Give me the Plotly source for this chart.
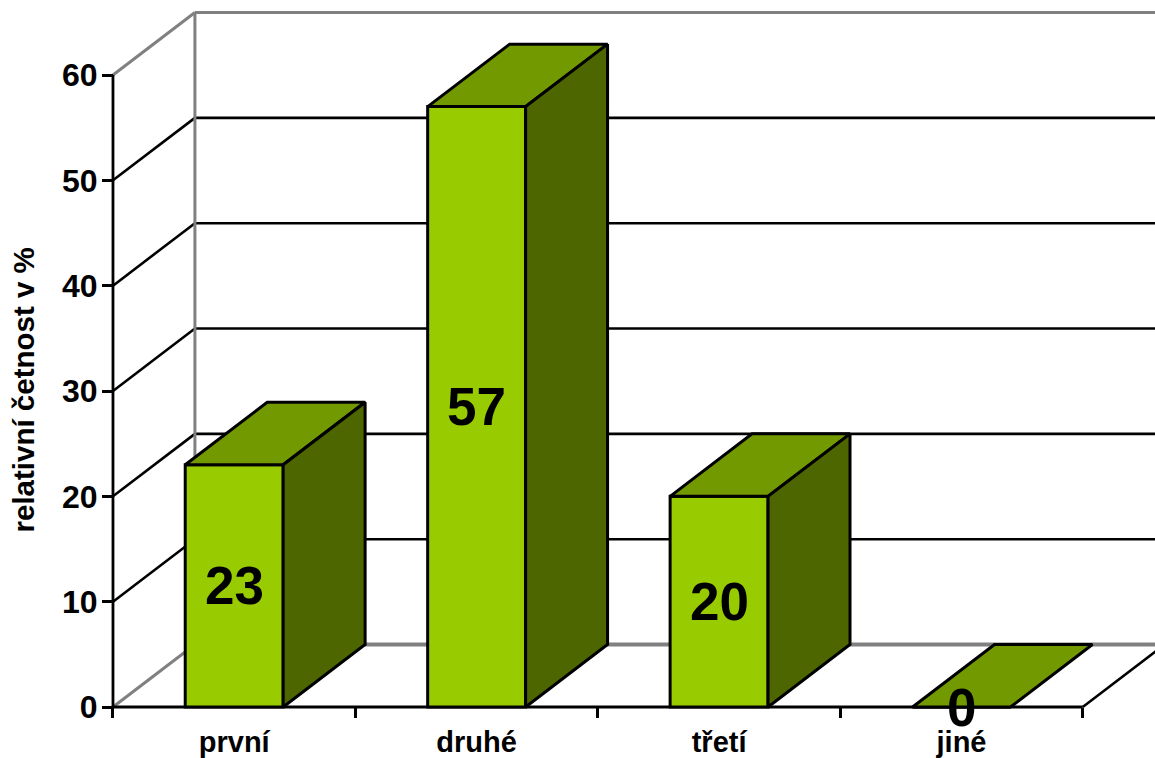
import plotly.graph_objects as go

categories = ["první", "druhé", "třetí", "jiné"]
values = [23, 57, 20, 0]
y_ticks = [0, 10, 20, 30, 40, 50, 60]

FRONT = "#99CC00"
TOP = "#739900"
SIDE = "#4D6600"
WALL = "#808080"
INK = "#000000"
FONT = "Liberation Sans"

BAR_WIDTH = 0.404
DEPTH_X = 0.338
DEPTH_Y = 5.93
X_RANGE = [-0.966, 3.798]
Y_RANGE = [-4.842, 67.12]

positions = list(range(len(categories)))
left_edge = positions[0] - 0.5
right_edge = positions[-1] + 0.5
y_top = y_ticks[-1]


def segment(x0, y0, x1, y1, color, width, layer="below"):
    return dict(type="line", xref="x", yref="y", x0=x0, y0=y0, x1=x1, y1=y1,
                line=dict(color=color, width=width), layer=layer)


shapes = []
# Receding gridlines on the side wall and along the back wall
for tick in y_ticks[1:-1]:
    shapes.append(segment(left_edge, tick, left_edge + DEPTH_X, tick + DEPTH_Y, INK, 2.6))
    shapes.append(segment(left_edge + DEPTH_X, tick + DEPTH_Y, X_RANGE[1], tick + DEPTH_Y, INK, 2.6))

# Wall outlines
shapes += [
    segment(left_edge, y_top, left_edge + DEPTH_X, y_top + DEPTH_Y, WALL, 3),
    segment(left_edge + DEPTH_X, y_top + DEPTH_Y, X_RANGE[1], y_top + DEPTH_Y, WALL, 3),
    segment(left_edge + DEPTH_X, DEPTH_Y, left_edge + DEPTH_X, y_top + DEPTH_Y, WALL, 3),
    segment(left_edge, 0, left_edge + DEPTH_X, DEPTH_Y, WALL, 3),
    segment(left_edge + DEPTH_X, DEPTH_Y, X_RANGE[1], DEPTH_Y, WALL, 4),
]

# Front axis lines and the floor edge on the right
shapes += [
    segment(left_edge, 0, left_edge, y_top, INK, 2.8),
    segment(left_edge, 0, right_edge, 0, INK, 2.8),
    segment(right_edge, 0, right_edge + DEPTH_X, DEPTH_Y, INK, 2.6),
]

fig = go.Figure()

# Front faces of the columns
fig.add_trace(go.Bar(
    x=positions, y=values, width=BAR_WIDTH,
    marker=dict(color=FRONT, line=dict(color=INK, width=3)),
    hoverinfo="skip", showlegend=False,
))

# Top and side faces, offset by the chart depth
for pos, value in zip(positions, values):
    x0 = pos - BAR_WIDTH / 2
    x1 = pos + BAR_WIDTH / 2
    fig.add_trace(go.Scatter(
        x=[x0, x1, x1 + DEPTH_X, x0 + DEPTH_X, x0],
        y=[value, value, value + DEPTH_Y, value + DEPTH_Y, value],
        mode="lines", fill="toself", fillcolor=TOP,
        line=dict(color=INK, width=3), hoverinfo="skip", showlegend=False,
    ))
    if value > 0:
        fig.add_trace(go.Scatter(
            x=[x1, x1 + DEPTH_X, x1 + DEPTH_X, x1, x1],
            y=[0, DEPTH_Y, value + DEPTH_Y, value, 0],
            mode="lines", fill="toself", fillcolor=SIDE,
            line=dict(color=INK, width=3), hoverinfo="skip", showlegend=False,
        ))

# Value labels centred on the front faces
value_labels = [
    dict(text=str(v), x=p, y=v / 2, xref="x", yref="y", showarrow=False,
         xanchor="center", yanchor="middle", yshift=0,
         font=dict(family=FONT, size=53, color=INK, weight=700))
    for p, v in zip(positions, values)
]

axis_title = dict(
    text="relativní četnost v %", textangle=-90, showarrow=False,
    xref="x", yref="y", x=-0.869, y=30.1,
    xanchor="center", yanchor="middle",
    font=dict(family=FONT, size=29.5, color=INK, weight=700),
)

fig.update_layout(
    width=1155, height=758,
    margin=dict(l=0, r=0, t=0, b=0),
    paper_bgcolor="white", plot_bgcolor="white",
    barmode="overlay",
    font=dict(family=FONT, color=INK),
    shapes=shapes,
    annotations=value_labels + [axis_title],
    xaxis=dict(
        range=X_RANGE, showgrid=False, zeroline=False, showline=False,
        anchor="free", position=51 / 758, automargin=False,
        tickmode="array", tickvals=positions, ticktext=categories,
        ticks="outside", ticklen=9, tickwidth=0.01, tickcolor="rgba(0,0,0,0)",
        tickfont=dict(family=FONT, size=29, color=INK, weight=700),
        minor=dict(
            tickmode="array",
            tickvals=[p - 0.5 for p in positions] + [right_edge],
            ticks="outside", ticklen=10, tickwidth=2.6, tickcolor=INK, showgrid=False,
        ),
    ),
    yaxis=dict(
        range=Y_RANGE, showgrid=False, zeroline=False, showline=False,
        anchor="free", position=113 / 1155, automargin=False,
        tickmode="array", tickvals=y_ticks,
        ticks="outside", ticklen=11, tickwidth=2.6, tickcolor=INK,
        ticklabelstandoff=-2,
        tickfont=dict(family=FONT, size=32, color=INK, weight=700),
    ),
)

fig.write_html("out.html")
